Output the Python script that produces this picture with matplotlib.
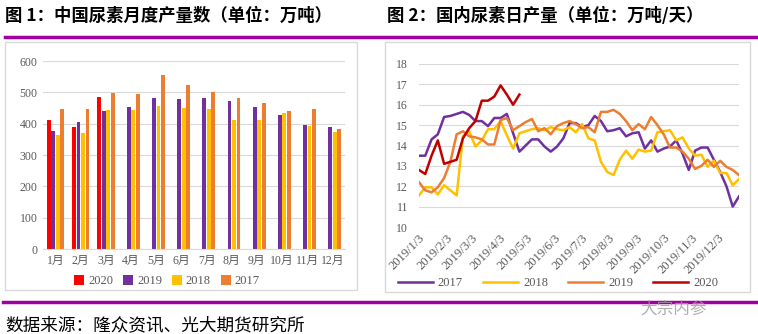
import numpy as np
import pandas as pd
import matplotlib
matplotlib.use('Agg')
import matplotlib.pyplot as plt
from matplotlib.patches import Rectangle
from matplotlib.lines import Line2D

plt.rcParams['font.family'] = ['Liberation Serif', 'Noto Sans CJK SC']

# 图1 月度产量（万吨）
months = ['1月', '2月', '3月', '4月', '5月', '6月', '7月', '8月', '9月', '10月', '11月', '12月']
m2020 = [411, 389, 485]
m2019 = [376, 405, 440, 453, 482, 479, 482, 472, 453, 427, 396, 389]
m2018 = [363, 370, 444, 444, 456, 450, 447, 412, 412, 434, 392, 373]
m2017 = [447, 447, 498, 495, 555, 523, 501, 482, 466, 440, 447, 383]

# 图2 日产量（万吨/天），周度
d2017 = [13.5, 13.5, 14.3, 14.55, 15.4, 15.45, 15.55, 15.65, 15.5, 15.2,
         15.2, 14.95, 15.35, 15.35, 15.55, 14.6, 13.7, 14.0, 14.3, 14.3,
         13.95, 13.7, 13.95, 14.35, 15.1, 15.1, 14.9, 15.0, 15.45, 15.2,
         14.7, 14.75, 14.85, 14.45, 14.6, 14.65, 13.85, 14.25, 13.7, 13.85,
         13.95, 14.25, 13.6, 12.8, 13.75, 13.9, 13.9, 13.3, 12.7, 12.0,
         11.0, 11.5]
d2018 = [11.55, 11.95, 11.95, 11.6, 12.05, 11.8, 11.55, 14.45, 14.7, 13.95,
         14.25, 14.8, 14.8, 15.2, 14.5, 13.85, 14.6, 14.7, 14.8, 14.85,
         14.75, 14.9, 14.8, 14.75, 14.9, 14.65, 15.05, 14.35, 14.25, 13.2,
         12.7, 12.55, 13.3, 13.75, 13.35, 13.8, 13.7, 13.75, 14.65, 14.7,
         14.75, 14.25, 14.4, 13.85, 13.5, 13.55, 12.95, 13.25, 12.65, 12.65,
         12.05, 12.35]
d2019 = [12.2, 11.8, 11.7, 11.95, 12.4, 13.2, 14.55, 14.7, 14.45, 14.4,
         14.3, 14.05, 14.05, 15.25, 15.35, 14.75, 14.95, 15.15, 15.3, 14.7,
         14.85, 14.55, 14.95, 15.1, 15.2, 15.05, 14.85, 14.9, 14.65, 15.65,
         15.65, 15.75, 15.55, 15.2, 14.75, 15.05, 14.8, 15.4, 15.0, 14.55,
         13.9, 13.9, 13.7, 13.35, 12.85, 13.0, 13.3, 12.95, 13.25, 12.95,
         12.8, 12.55]
d2020 = [12.8, 12.6, 13.5, 14.25, 13.1, 13.2, 13.3, 14.35, 14.85, 15.2,
         16.2, 16.2, 16.4, 16.95, 16.5, 16.0, 16.5]
dates = pd.date_range('2019-01-03', periods=len(d2017), freq='7D')
tick_dates = [pd.Timestamp(2019, m, 3) for m in range(1, 13)]
tick_labels = ['2019/%d/3' % m for m in range(1, 13)]

c_purple = '#7030A0'
c_yellow = '#FFC000'
c_orange = '#ED7D31'
grid_c = '#D9D9D9'
txt_c = '#595959'
cjk = ['Noto Sans CJK SC', 'DejaVu Sans']

fig = plt.figure(figsize=(7.58, 3.34), dpi=100)
W, H = 758.0, 334.0

# 标题和分隔线
fig.text(5 / W, 1 - 16 / H, '图 1：中国尿素月度产量数（单位：万吨）', family=cjk,
         fontsize=12.5, fontweight='bold', va='center', ha='left')
fig.text(387 / W, 1 - 16 / H, '图 2：国内尿素日产量（单位：万吨/天）', family=cjk,
         fontsize=12.5, fontweight='bold', va='center', ha='left')
fig.add_artist(Line2D([5 / W, 1.0], [1 - 37 / H, 1 - 37 / H], color='#A000A0', lw=2.5))
fig.add_artist(Line2D([3 / W, 1.0], [1 - 302 / H, 1 - 302 / H], color='#A000A0', lw=2.5))
fig.add_artist(Rectangle((5 / W, 1 - 290 / H), 352 / W, 248 / H, fill=False,
                         edgecolor=grid_c, lw=1, transform=fig.transFigure))
fig.add_artist(Rectangle((385 / W, 1 - 292 / H), 365 / W, 250 / H, fill=False,
                         edgecolor=grid_c, lw=1, transform=fig.transFigure))
fig.text(5 / W, 1 - 325 / H, '数据来源：隆众资讯、光大期货研究所', family=cjk,
         fontsize=12.7, va='center', ha='left')
fig.text(640 / W, 1 - 309 / H, '大宗内参', family=cjk, fontsize=12,
         color='#9a9a9a', alpha=0.8, va='center', ha='left')

# 左图 柱状图
ax1 = fig.add_axes([43 / W, 1 - 249 / H, 302 / W, 188 / H])
x = np.arange(len(months))
d = 0.18
w = 0.15
b1 = ax1.bar(x[:len(m2020)] - 1.5 * d, m2020, w, color='#FF0000', label='2020')
b2 = ax1.bar(x - 0.5 * d, m2019, w, color=c_purple, label='2019')
b3 = ax1.bar(x + 0.5 * d, m2018, w, color=c_yellow, label='2018')
b4 = ax1.bar(x + 1.5 * d, m2017, w, color=c_orange, label='2017')
ax1.set_xlim(-0.5, 11.5)
ax1.set_ylim(0, 600)
ax1.set_yticks(range(0, 601, 100))
ax1.set_xticks(x)
ax1.set_xticklabels(months)
ax1.yaxis.grid(True, color=grid_c, lw=0.8)
ax1.set_axisbelow(True)
for s in ['top', 'right', 'left']:
    ax1.spines[s].set_visible(False)
ax1.spines['bottom'].set_color(grid_c)
ax1.tick_params(length=0, labelsize=8.5, colors=txt_c, pad=4)
fig.legend(handles=[b1, b2, b3, b4], loc='center', bbox_to_anchor=(167 / W, 1 - 281 / H),
           ncol=4, frameon=False, fontsize=9, handlelength=0.8, handleheight=0.8,
           handletextpad=0.3, columnspacing=0.8, labelcolor=txt_c)

# 右图 折线图
ax2 = fig.add_axes([419 / W, 1 - 227 / H, 320 / W, 163 / H])
l1, = ax2.plot(dates, d2017, color=c_purple, lw=1.8, label='2017')
l2, = ax2.plot(dates, d2018, color=c_yellow, lw=1.8, label='2018')
l3, = ax2.plot(dates, d2019, color=c_orange, lw=1.8, label='2019')
l4, = ax2.plot(dates[:len(d2020)], d2020, color='#C00000', lw=1.8, label='2020')
ax2.set_xlim(dates[0], dates[-1])
ax2.set_ylim(10, 18)
ax2.set_yticks(range(10, 19))
ax2.set_xticks(tick_dates)
ax2.set_xticklabels(tick_labels, rotation=45, ha='right', va='top', rotation_mode='anchor')
ax2.yaxis.grid(True, color=grid_c, lw=0.8)
ax2.set_axisbelow(True)
for s in ['top', 'right', 'left', 'bottom']:
    ax2.spines[s].set_visible(False)
ax2.tick_params(length=0, labelsize=8.5, colors=txt_c)
ax2.tick_params(axis='x', labelsize=9)
ax2.tick_params(axis='y', pad=8)
fig.legend(handles=[l1, l2, l3, l4], loc='center', bbox_to_anchor=(558 / W, 1 - 283 / H),
           ncol=4, frameon=False, fontsize=9, handlelength=2.8, handletextpad=0.4,
           columnspacing=1.6, labelcolor=txt_c)

fig.savefig('out.png', dpi=100)
